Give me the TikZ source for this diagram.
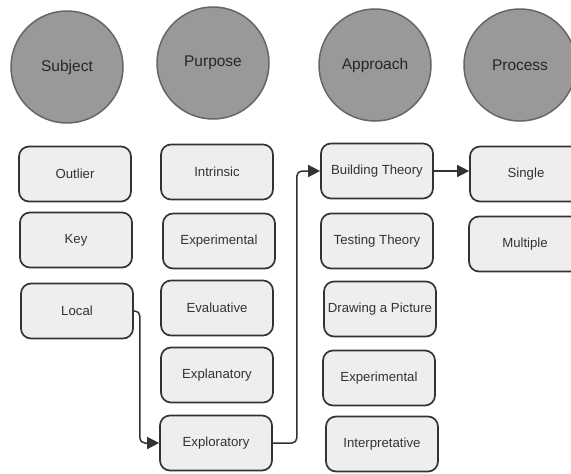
\documentclass[tikz,border=0pt]{standalone}
\usepackage{fontspec}
\setmainfont{Liberation Sans}
\usetikzlibrary{arrows.meta}
\definecolor{circfill}{HTML}{999999}
\definecolor{circline}{HTML}{666666}
\definecolor{boxfill}{HTML}{EEEEEE}
\definecolor{boxline}{HTML}{333333}

\begin{document}
\begin{tikzpicture}[x=1pt,y=-1pt]
                \tikzset{Circ/.style={circle, draw=circline, fill=circfill, line width=1.5pt,
                    minimum size=112pt, inner sep=0pt, text=black!85,
                    font=\fontsize{15.5}{18}\selectfont}}
                \tikzset{Box/.style={rectangle, rounded corners=10pt, draw=boxline, fill=boxfill,
                    line width=1.7pt, minimum width=112pt, minimum height=55pt, inner sep=0pt,
                    text=black!80, font=\fontsize{13.2}{15}\selectfont}}
                \tikzset{Link/.style={draw=boxline, line width=1.5pt, rounded corners=5pt,
                    -{Triangle[length=12pt,width=12pt]}}}
                \clip (0,0) rectangle (571,474);
                % heads
                \node[Circ] (Subject)  at (67,67)  {Subject};
                \node[Circ] (Purpose)  at (213,63) {Purpose};
                \node[Circ] (Approach) at (375,65) {Approach};
                \node[Circ] (Process)  at (520,65) {Process};
                % subject
                \node[Box] (Outlier) at (75,174) {Outlier};
                \node[Box] (Key)     at (76,240) {Key};
                \node[Box] (Local)   at (77,311) {Local};
                % purpose
                \node[Box] (Intrinsic)   at (217,172) {Intrinsic};
                \node[Box] (ExpPurpose)  at (219,241) {Experimental};
                \node[Box] (Evaluative)  at (217,308) {Evaluative};
                \node[Box] (Explanatory) at (217,375) {Explanatory};
                \node[Box] (Exploratory) at (216,443) {Exploratory};
                % approach
                \node[Box] (Building)  at (377,171) {Building Theory};
                \node[Box] (Testing)   at (377,241) {Testing Theory};
                \node[Box] (Drawing)   at (380,309) {Drawing a Picture};
                \node[Box] (ExpApproach) at (379,378) {Experimental};
                \node[Box] (Interpret) at (382,444) {Interpretative};
                % process
                \node[Box] (Single)   at (526,174) {Single};
                \node[Box] (Multiple) at (525,244) {Multiple};
                % links
                \draw[Link] (Local.east) -- ++(6,0) |- (Exploratory.west);
                \draw[Link] (Exploratory.east) -- ++(24,0) |- (Building.west);
                \draw[Link] (Building.east) -- (Building.east -| Single.west);
\end{tikzpicture}
\end{document}
